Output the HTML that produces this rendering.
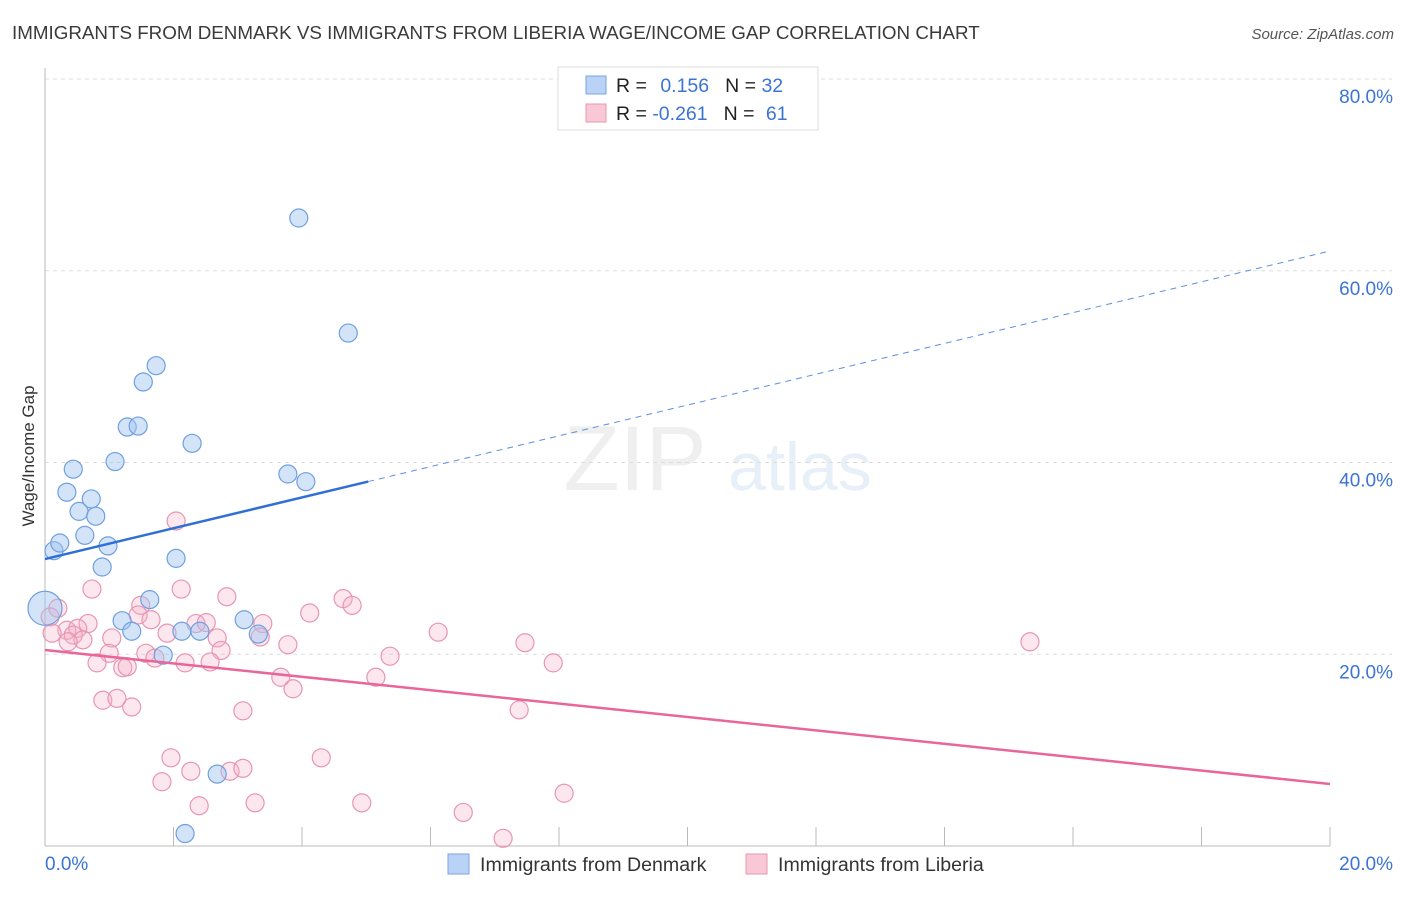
<!DOCTYPE html>
<html><head><meta charset="utf-8"><style>
body{margin:0;background:#fff;font-family:"Liberation Sans",sans-serif;}
svg text{font-family:"Liberation Sans",sans-serif;}
</style></head><body>
<svg id="chart" width="1406" height="892" xmlns="http://www.w3.org/2000/svg">
<text x="12" y="39" font-size="18.8" fill="#3a3a3a">IMMIGRANTS FROM DENMARK VS IMMIGRANTS FROM LIBERIA WAGE/INCOME GAP CORRELATION CHART</text>
<text x="1394" y="39" font-size="15" fill="#555" text-anchor="end" font-style="italic">Source: ZipAtlas.com</text>
<text transform="translate(34,456) rotate(-90)" font-size="17" fill="#333" text-anchor="middle">Wage/Income Gap</text>
<g opacity="0.4">
<text x="635" y="490" font-size="92" fill="#d8d8d8" font-family="Liberation Serif" text-anchor="middle">ZIP</text>
<text x="800" y="490" font-size="68" fill="#c5d8ef" text-anchor="middle">atlas</text>
</g>
<g id="grid"></g><g id="axes"></g><g id="pts"></g><g id="lines"></g>
<g>
<rect x="558" y="67" width="260" height="63" fill="#fff" stroke="#ddd"/>
<rect x="586" y="76" width="20" height="18" fill="#b9d2f5" stroke="#7aa5e3"/>
<rect x="586" y="104" width="20" height="18" fill="#f9c8d6" stroke="#ea94ae"/>
<text x="616" y="92" font-size="19.5" fill="#222">R = <tspan fill="#3b74d4" dx="8">0.156</tspan><tspan fill="#222" dx="16">N = </tspan><tspan fill="#3b74d4">32</tspan></text>
<text x="616" y="120" font-size="19.5" fill="#222">R = <tspan fill="#3b74d4">-0.261</tspan><tspan fill="#222" dx="16">N = </tspan><tspan fill="#3b74d4" dx="6">61</tspan></text>
</g>
<g>
<rect x="448" y="854" width="21" height="20" fill="#b9d2f5" stroke="#7aa5e3"/>
<text x="480" y="871" font-size="19.6" fill="#333">Immigrants from Denmark</text>
<rect x="746" y="854" width="21" height="20" fill="#f9c8d6" stroke="#ea94ae"/>
<text x="778" y="871" font-size="19.6" fill="#333">Immigrants from Liberia</text>
</g>
</svg>
<script>
const xTickLabels=["0.0%","20.0%"];
const yTicks=[20,40,60,80];
const blueX=[0.14,0.23,0.44,0.34,0.53,0.62,0.72,0.79,0.89,0.98,1.09,1.28,1.45,1.53,1.73,2.29,2.04,1.63,1.20,1.35,1.84,2.13,2.41,3.10,3.32,2.68,2.18,3.78,4.06,3.95,4.72,0];
const blueY=[30.8,31.6,39.3,36.9,34.9,32.4,36.2,34.4,29.1,31.3,40.1,43.7,43.8,48.4,50.1,42.0,30.0,25.7,23.5,22.4,19.9,22.4,22.4,23.6,22.1,7.5,1.3,38.8,38.0,65.5,53.5,24.8];
const pinkX=[2.04,0.73,2.12,2.83,0.20,1.49,1.45,1.65,0.67,0.08,0.34,0.51,0.44,0.59,0.36,0.11,1.04,1.90,2.35,2.51,2.68,2.74,3.39,3.35,3.78,4.12,4.64,4.78,1.00,0.81,1.57,1.71,1.21,1.28,2.18,2.57,3.67,3.86,0.90,1.12,1.35,3.08,1.96,2.27,1.82,2.88,3.08,4.30,2.40,3.27,4.93,5.15,5.37,6.12,7.47,7.91,7.38,15.33,6.51,7.13,8.08];
const pinkY=[33.9,26.8,26.8,26.0,24.8,25.1,24.1,23.6,23.2,23.9,22.5,22.7,22.0,21.5,21.3,22.2,21.7,22.2,23.2,23.3,21.7,20.4,23.2,21.8,21.0,24.3,25.8,25.1,20.1,19.1,20.1,19.6,18.6,18.7,19.1,19.2,17.6,16.4,15.2,15.4,14.5,14.1,9.2,7.8,6.7,7.8,8.1,9.2,4.2,4.5,4.5,17.6,19.8,22.3,21.2,19.1,14.2,21.3,3.5,0.8,5.5];
const blueTrend=[29.93,62.06];const blueSolidEnd=5.03;
const pinkTrend=[20.44,6.47];
const NS="http://www.w3.org/2000/svg";
const X=v=>45+v/20*1285, Y=v=>846-v/80*767;
function mk(p,t,a){const e=document.createElementNS(NS,t);for(const k in a)e.setAttribute(k,a[k]);document.getElementById(p).appendChild(e);return e;}
yTicks.forEach(t=>{
 const g=mk('grid','line',{x1:45,x2:1392,y1:Y(t),y2:Y(t),stroke:'#ddd','stroke-dasharray':'4,4'});
 
 
 const l=mk('grid','text',{x:1393,y:Y(t)+24,'font-size':19,fill:'#3b74d4','text-anchor':'end'});l.textContent=t.toFixed(1)+'%';
 
 
});
mk('axes','line',{x1:45,x2:45,y1:68,y2:846,stroke:'#bbb'});
mk('axes','line',{x1:45,x2:1330,y1:846,y2:846,stroke:'#bbb'});
for(let i=0;i<=10;i++){const t=mk('axes','line',{x1:X(i*2),x2:X(i*2),y1:827,y2:846,stroke:'#bbb'});
 
 }
const xl0=mk('axes','text',{x:45,y:870,'font-size':19,fill:'#3b74d4'});xl0.textContent=xTickLabels[0];


const xl1=mk('axes','text',{x:1393,y:870,'font-size':19,fill:'#3b74d4','text-anchor':'end'});xl1.textContent=xTickLabels[1];


pinkX.forEach((x,i)=>{const c=mk('pts','circle',{cx:X(x),cy:Y(pinkY[i]),r:9,fill:'rgba(246,175,198,0.3)',stroke:'#e995b0','stroke-width':1.2});
 
 });
blueX.forEach((x,i)=>{const c=mk('pts','circle',{cx:X(x),cy:Y(blueY[i]),r:i==blueX.length-1?17:9,fill:'rgba(160,196,240,0.45)',stroke:'#6f9fe0','stroke-width':1.2});
 
 });
const bAt=x=>blueTrend[0]+(blueTrend[1]-blueTrend[0])*x/20;
const b1=mk('lines','line',{x1:X(0),y1:Y(bAt(0)),x2:X(blueSolidEnd),y2:Y(bAt(blueSolidEnd)),stroke:'#2f6fd6','stroke-width':2.5});


const b2=mk('lines','line',{x1:X(blueSolidEnd),y1:Y(bAt(blueSolidEnd)),x2:X(20),y2:Y(bAt(20)),stroke:'#5b8fe0','stroke-width':1,'stroke-dasharray':'6,5'});


const p1=mk('lines','line',{x1:X(0),y1:Y(pinkTrend[0]),x2:X(20),y2:Y(pinkTrend[1]),stroke:'#e8669a','stroke-width':2.5});


</script>
</body></html>
